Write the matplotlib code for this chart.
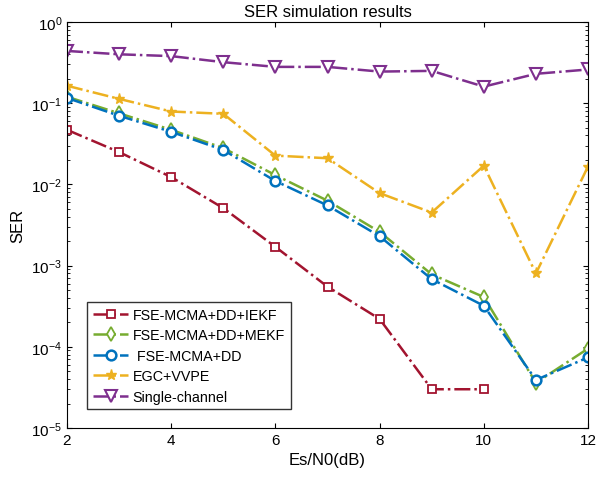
import matplotlib
matplotlib.use("Agg")
from matplotlib import pyplot as plt

plt.rcParams['font.family'] = ['Liberation Sans', 'DejaVu Sans']

snr = [2, 3, 4, 5, 6, 7, 8, 9, 10, 11, 12]

# SER values
iekf = [0.047, 0.025, 0.0123, 0.0051, 0.0017, 5.5e-4, 2.2e-4, 3.0e-5, 3.0e-5]
mekf = [0.12, 0.075, 0.047, 0.028, 0.013, 0.0063, 0.0026, 7.8e-4, 4.1e-4, 3.6e-5, 9.5e-5]
dd = [0.116, 0.070, 0.0444, 0.0265, 0.011, 0.0055, 0.0023, 6.8e-4, 3.2e-4, 3.9e-5, 7.4e-5]
egc = [0.164, 0.113, 0.079, 0.074, 0.0226, 0.021, 0.0078, 0.0045, 0.017, 8.0e-4, 0.0166]
single = [0.44, 0.40, 0.38, 0.32, 0.28, 0.28, 0.245, 0.25, 0.16, 0.23, 0.26]

fig = plt.figure(figsize=(5.96, 4.85), dpi=100)
ax = fig.add_axes([0.1124, 0.1155, 0.8742, 0.8371])

ax.semilogy(snr[:len(iekf)], iekf, '-.', color='#A2142F', marker='s', mfc='white', ms=6, mew=1.3, lw=1.8,
            label='FSE-MCMA+DD+IEKF')
ax.semilogy(snr, mekf, '-.', color='#77AC30', marker='d', mfc='white', ms=7, mew=1.3, lw=1.8,
            label='FSE-MCMA+DD+MEKF')
ax.semilogy(snr, dd, '-.', color='#0072BD', marker='o', mfc='white', ms=7, mew=1.8, lw=1.8,
            label=' FSE-MCMA+DD')
ax.semilogy(snr, egc, '-.', color='#EDB120', marker='*', ms=8, lw=1.8,
            label='EGC+VVPE')
ax.semilogy(snr, single, '-.', color='#7E2F8E', marker='v', mfc='white', ms=8, mew=1.5, lw=1.8,
            label='Single-channel')

ax.set_xlim(2, 12)
ax.set_ylim(1e-5, 1)
ax.set_xticks([2, 4, 6, 8, 10, 12])
ax.tick_params(which='both', direction='in', top=True, right=True, labelsize=11)
ax.set_xlabel('Es/N0(dB)', fontsize=12)
ax.set_ylabel('SER', fontsize=12)
ax.set_title('SER simulation results', fontsize=12, pad=4)

ax.legend(loc='lower left', bbox_to_anchor=(0.03, 0.035), fontsize=10.3, frameon=True, fancybox=False,
          edgecolor='black', handlelength=2.5, handletextpad=0.3, borderaxespad=0.3, labelspacing=0.45)

fig.savefig('out.png', dpi=100)
